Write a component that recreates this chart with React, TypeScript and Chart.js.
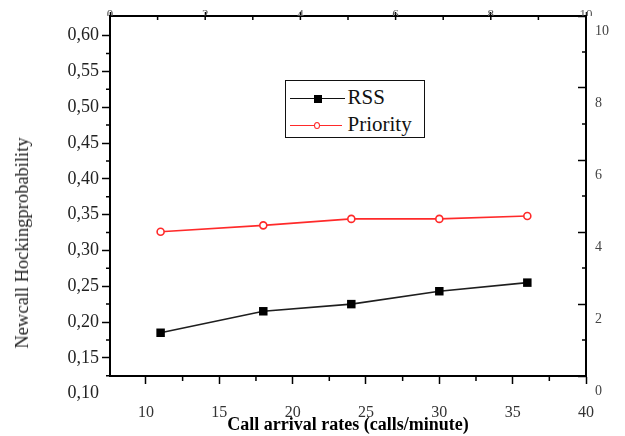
import React, { useEffect, useRef } from 'react';
import { Chart, registerables } from 'chart.js';

Chart.register(...registerables);

const CALL_RATES = [11, 18, 24, 30, 36];
const RSS = [0.185, 0.215, 0.225, 0.243, 0.255];
const PRIORITY = [0.326, 0.335, 0.344, 0.344, 0.348];

const LEFT_TICKS = [0.1, 0.15, 0.2, 0.25, 0.3, 0.35, 0.4, 0.45, 0.5, 0.55, 0.6];
const LEFT_MINOR = [0.125, 0.175, 0.225, 0.275, 0.325, 0.375, 0.425, 0.475, 0.525, 0.575];
const BOTTOM_TICKS = [10, 15, 20, 25, 30, 35, 40];
const BOTTOM_MINOR = [12.5, 17.5, 22.5, 27.5, 32.5, 37.5];
const TOP_TICKS = [0, 2, 4, 6, 8, 10];
const TOP_MINOR = [1, 3, 5, 7, 9];
const RIGHT_TICKS = [0, 2, 4, 6, 8, 10];
const RIGHT_MINOR = [1, 3, 5, 7, 9];

const SERIF = "'Liberation Serif', 'Times New Roman', serif";

const minorTicksPlugin = {
  id: 'minorTicks',
  afterDatasetsDraw(chart: any) {
    const ctx = chart.ctx;
    const area = chart.chartArea;
    const left = area.left, right = area.right, top = area.top, bottom = area.bottom;
    const s = chart.scales;
    ctx.save();
    ctx.strokeStyle = '#000000';
    ctx.lineWidth = 1.5;
    ctx.beginPath();
    for (const v of LEFT_MINOR) {
      const p = s.y.getPixelForValue(v);
      if (p >= top && p <= bottom) { ctx.moveTo(left - 4, p); ctx.lineTo(left, p); }
    }
    for (const v of BOTTOM_MINOR) {
      const p = s.x.getPixelForValue(v);
      if (p >= left && p <= right) { ctx.moveTo(p, bottom); ctx.lineTo(p, bottom + 5); }
    }
    for (const v of RIGHT_MINOR) {
      const p = s.y2.getPixelForValue(v);
      if (p >= top && p <= bottom) { ctx.moveTo(right - 4, p); ctx.lineTo(right, p); }
    }
    for (const v of TOP_MINOR) {
      const p = s.xTop.getPixelForValue(v);
      if (p >= left && p <= right) { ctx.moveTo(p, top); ctx.lineTo(p, top + 4); }
    }
    for (const v of TOP_TICKS) {
      const p = s.xTop.getPixelForValue(v);
      if (p >= left - 1 && p <= right + 1) { ctx.moveTo(p, top); ctx.lineTo(p, top + 4); }
    }
    ctx.stroke();
    ctx.restore();
  },
};

const zeroPad = (sc: any) => {
  sc.paddingTop = 0;
  sc.paddingBottom = 0;
  sc.paddingLeft = 0;
  sc.paddingRight = 0;
};

const majorGrid = (len: number, hideBelow?: number) => ({
  display: true,
  drawOnChartArea: false,
  drawTicks: true,
  tickLength: len,
  tickWidth: 1.5,
  tickColor: (c: any) => (hideBelow !== undefined && c.tick && c.tick.value < hideBelow ? 'rgba(0,0,0,0)' : '#000'),
  color: 'rgba(0,0,0,0)',
});

export default function App() {
  const canvasRef = useRef<HTMLCanvasElement | null>(null);

  useEffect(() => {
    const canvas = canvasRef.current;
    if (!canvas) return;
    const chart = new Chart(canvas, {
      type: 'line',
      data: {
        datasets: [
          {
            label: 'RSS',
            data: CALL_RATES.map((x, i) => ({ x, y: RSS[i] })),
            borderColor: '#1e1e1e',
            borderWidth: 1.6,
            pointStyle: 'rect',
            pointRadius: 6,
            pointBackgroundColor: '#000',
            pointBorderColor: '#000',
            pointBorderWidth: 0,
            xAxisID: 'x',
            yAxisID: 'y',
          },
          {
            label: 'Priority',
            data: CALL_RATES.map((x, i) => ({ x, y: PRIORITY[i] })),
            borderColor: '#ff2a2a',
            borderWidth: 1.6,
            pointStyle: 'circle',
            pointRadius: 3.5,
            pointBackgroundColor: '#fff',
            pointBorderColor: '#ff2a2a',
            pointBorderWidth: 1.6,
            xAxisID: 'x',
            yAxisID: 'y',
          },
        ],
      },
      options: {
        responsive: false,
        animation: false,
        layout: { padding: 0 },
        plugins: { legend: { display: false }, tooltip: { enabled: false } },
        scales: {
          x: {
            type: 'linear',
            position: 'bottom',
            min: 7.55,
            max: 40,
            grid: majorGrid(8),
            border: { display: true, color: '#000', width: 2 },
            afterBuildTicks: (sc: any) => { sc.ticks = BOTTOM_TICKS.map((v) => ({ value: v })); },
            afterFit: (sc: any) => { sc.height = 60; zeroPad(sc); },
            ticks: {
              autoSkip: false,
              maxRotation: 0,
              padding: 19,
              color: '#333',
              font: { family: SERIF, size: 16 },
              callback: (v: any) => String(v),
            },
            title: {
              display: true,
              text: 'Call arrival rates (calls/minute)',
              color: '#000',
              font: { family: SERIF, size: 18, weight: 'bold' },
              padding: { top: 0, bottom: 0 },
            },
          },
          xTop: {
            type: 'linear',
            position: 'top',
            display: true,
            min: 0,
            max: 10,
            grid: majorGrid(4),
            border: { display: true, color: '#000', width: 2 },
            afterBuildTicks: (sc: any) => { sc.ticks = TOP_TICKS.map((v) => ({ value: v })); },
            afterFit: (sc: any) => { sc.height = 16; zeroPad(sc); },
            ticks: {
              autoSkip: false,
              maxRotation: 0,
              padding: -10,
              color: '#555',
              font: { family: SERIF, size: 13 },
              callback: (v: any) => String(v),
            },
          },
          y: {
            type: 'linear',
            position: 'left',
            min: 0.1246,
            max: 0.6274,
            grid: majorGrid(8, 0.11),
            border: { display: true, color: '#000', width: 2 },
            afterBuildTicks: (sc: any) => { sc.ticks = LEFT_TICKS.map((v) => ({ value: v })); },
            afterFit: (sc: any) => { sc.width = 110; zeroPad(sc); },
            ticks: {
              autoSkip: false,
              padding: 3,
              color: '#222',
              font: { family: SERIF, size: 18 },
              callback: (v: any) => Number(v).toFixed(2).replace('.', ','),
            },
          },
          y2: {
            type: 'linear',
            position: 'right',
            display: true,
            min: 0,
            max: 10,
            grid: majorGrid(-8),
            border: { display: true, color: '#000', width: 2 },
            afterBuildTicks: (sc: any) => { sc.ticks = RIGHT_TICKS.map((v) => ({ value: v })); },
            afterFit: (sc: any) => { sc.width = 39; zeroPad(sc); },
            ticks: {
              autoSkip: false,
              padding: 17,
              labelOffset: 15,
              color: '#444',
              font: { family: SERIF, size: 14 },
              callback: (v: any) => String(v),
            },
          },
        },
      } as any,
      plugins: [minorTicksPlugin],
    });
    return () => chart.destroy();
  }, []);

  return (
    <div style={{ position: 'absolute', left: 0, top: 0, width: 625, height: 436, background: '#fff' }}>
      <canvas ref={canvasRef} width={625} height={436} style={{ display: 'block' }} />
      <div
        style={{
          position: 'absolute',
          left: 22,
          top: 243,
          transform: 'translate(-50%, -50%) rotate(-90deg)',
          whiteSpace: 'nowrap',
          fontFamily: SERIF,
          fontSize: 18.5,
          lineHeight: '20px',
          color: '#222',
        }}
      >
        Newcall Hockingprobability
      </div>
      <div
        style={{
          position: 'absolute',
          left: 285,
          top: 80,
          width: 140,
          height: 58,
          boxSizing: 'border-box',
          border: '1.5px solid #111',
          background: '#fff',
          fontFamily: SERIF,
        }}
      >
        <div style={{ position: 'absolute', left: 4, top: 16.5, width: 55, height: 1.6, background: '#111' }} />
        <div style={{ position: 'absolute', left: 27.5, top: 13.5, width: 8, height: 8, background: '#000' }} />
        <div style={{ position: 'absolute', left: 61.5, top: 4, fontSize: 21, lineHeight: '24px', color: '#111' }}>RSS</div>
        <div style={{ position: 'absolute', left: 4, top: 43.5, width: 52, height: 1.6, background: '#ff2a2a' }} />
        <div
          style={{
            position: 'absolute',
            left: 28,
            top: 40.5,
            width: 4,
            height: 5,
            border: '1.5px solid #ff2a2a',
            borderRadius: '50%',
            background: '#fff',
          }}
        />
        <div style={{ position: 'absolute', left: 61.5, top: 31, fontSize: 21, lineHeight: '24px', color: '#111' }}>Priority</div>
      </div>
    </div>
  );
}
